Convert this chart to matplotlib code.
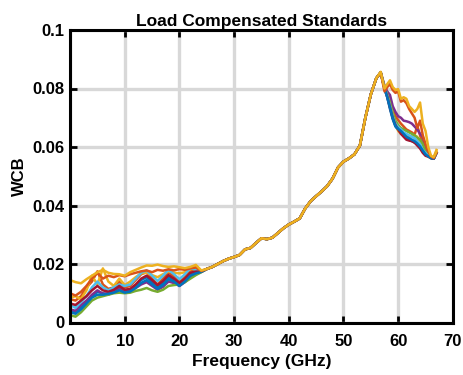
import numpy as np
import matplotlib
matplotlib.use("Agg")
import matplotlib.pyplot as plt

plt.rcParams['font.family'] = ['Liberation Sans', 'DejaVu Sans']
plt.rcParams['font.weight'] = 'bold'

# ---------------- data ----------------
f_low = [0, 1, 2, 3, 4, 5, 6, 7, 8, 9, 10, 11, 12, 13, 14, 15, 16, 17, 18, 19, 20, 21, 22, 23, 24]
f_mid = [25, 26, 27, 28, 29, 30, 31, 32, 33, 34, 35, 36, 37, 38, 39, 40, 41, 42, 43, 44, 45,
         46, 47, 48, 49, 50, 51, 52, 53, 54, 55, 56]
f_high = [56.8, 57.5, 58, 58.5, 59, 59.5, 60, 60.5, 61, 61.5, 62, 62.5, 63, 63.5, 64, 64.5,
          65, 65.5, 66, 66.5, 67]

# shared part (all standards coincide between ~24 and 56 GHz)
wcb_mid = [0.0183, 0.0190, 0.0200, 0.0210, 0.0218, 0.0224, 0.0231, 0.0250, 0.0255, 0.0272,
           0.0288, 0.0285, 0.0290, 0.0306, 0.0322, 0.0335, 0.0345, 0.0356, 0.0390, 0.0415,
           0.0432, 0.0448, 0.0466, 0.0492, 0.0530, 0.0550, 0.0561, 0.0575, 0.0605, 0.0700,
           0.0780, 0.0835]

low_0 = [0.0040, 0.0035, 0.0050, 0.0070, 0.0090, 0.0105, 0.0100, 0.0095, 0.0105, 0.0115, 0.0105,
         0.0110, 0.0125, 0.0145, 0.0155, 0.0138, 0.0120, 0.0135, 0.0156, 0.0145, 0.0128, 0.0145,
         0.0165, 0.0172, 0.0174]
low_1 = [0.0080, 0.0075, 0.0090, 0.0120, 0.0140, 0.0175, 0.0130, 0.0115, 0.0120, 0.0140, 0.0120,
         0.0125, 0.0145, 0.0165, 0.0172, 0.0150, 0.0130, 0.0150, 0.0172, 0.0158, 0.0138, 0.0155,
         0.0178, 0.0175, 0.0174]
low_2 = [0.0085, 0.0090, 0.0080, 0.0110, 0.0160, 0.0130, 0.0185, 0.0140, 0.0125, 0.0150, 0.0128,
         0.0140, 0.0155, 0.0168, 0.0170, 0.0162, 0.0155, 0.0165, 0.0175, 0.0170, 0.0168, 0.0172,
         0.0182, 0.0190, 0.0176]
low_3 = [0.0045, 0.0040, 0.0060, 0.0075, 0.0095, 0.0110, 0.0098, 0.0100, 0.0110, 0.0118, 0.0105,
         0.0108, 0.0118, 0.0130, 0.0138, 0.0125, 0.0112, 0.0122, 0.0140, 0.0135, 0.0125, 0.0138,
         0.0155, 0.0165, 0.0173]
low_4 = [0.0025, 0.0020, 0.0035, 0.0055, 0.0075, 0.0085, 0.0090, 0.0095, 0.0100, 0.0102, 0.0100,
         0.0102, 0.0108, 0.0112, 0.0118, 0.0110, 0.0105, 0.0112, 0.0125, 0.0128, 0.0130, 0.0138,
         0.0150, 0.0162, 0.0172]
low_5 = [0.0060, 0.0050, 0.0070, 0.0090, 0.0120, 0.0140, 0.0120, 0.0110, 0.0120, 0.0130, 0.0125,
         0.0130, 0.0150, 0.0170, 0.0178, 0.0160, 0.0142, 0.0160, 0.0180, 0.0165, 0.0148, 0.0165,
         0.0186, 0.0180, 0.0175]
low_6 = [0.0065, 0.0060, 0.0075, 0.0090, 0.0110, 0.0125, 0.0110, 0.0105, 0.0112, 0.0125, 0.0112,
         0.0115, 0.0130, 0.0150, 0.0160, 0.0145, 0.0128, 0.0142, 0.0162, 0.0150, 0.0135, 0.0150,
         0.0170, 0.0174, 0.0174]
low_7 = [0.0035, 0.0030, 0.0045, 0.0065, 0.0085, 0.0095, 0.0095, 0.0098, 0.0102, 0.0110, 0.0102,
         0.0106, 0.0118, 0.0135, 0.0145, 0.0130, 0.0115, 0.0128, 0.0148, 0.0140, 0.0125, 0.0140,
         0.0160, 0.0168, 0.0173]
low_8 = [0.0100, 0.0092, 0.0105, 0.0125, 0.0150, 0.0170, 0.0150, 0.0160, 0.0155, 0.0162, 0.0158,
         0.0165, 0.0170, 0.0175, 0.0178, 0.0172, 0.0180, 0.0177, 0.0182, 0.0178, 0.0183, 0.0180,
         0.0185, 0.0188, 0.0176]
low_9 = [0.0145, 0.0138, 0.0134, 0.0148, 0.0160, 0.0172, 0.0180, 0.0170, 0.0166, 0.0165, 0.0160,
         0.0172, 0.0180, 0.0188, 0.0195, 0.0194, 0.0198, 0.0193, 0.0190, 0.0192, 0.0189, 0.0186,
         0.0190, 0.0197, 0.0178]

high_0 = [0.0855, 0.0800, 0.0770, 0.0730, 0.0695, 0.0670, 0.0658, 0.0650, 0.0640, 0.0630, 0.0625,
          0.0620, 0.0615, 0.0610, 0.0600, 0.0585, 0.0575, 0.0570, 0.0562, 0.0560, 0.0580]
high_1 = [0.0855, 0.0805, 0.0785, 0.0760, 0.0730, 0.0705, 0.0692, 0.0680, 0.0670, 0.0660, 0.0655,
          0.0650, 0.0642, 0.0672, 0.0640, 0.0610, 0.0585, 0.0570, 0.0563, 0.0560, 0.0580]
high_2 = [0.0855, 0.0800, 0.0775, 0.0750, 0.0715, 0.0685, 0.0655, 0.0645, 0.0642, 0.0638, 0.0635,
          0.0637, 0.0640, 0.0635, 0.0610, 0.0590, 0.0575, 0.0567, 0.0562, 0.0565, 0.0590]
high_3 = [0.0855, 0.0810, 0.0790, 0.0778, 0.0740, 0.0720, 0.0705, 0.0700, 0.0690, 0.0688, 0.0685,
          0.0680, 0.0670, 0.0660, 0.0645, 0.0635, 0.0600, 0.0575, 0.0565, 0.0560, 0.0580]
high_4 = [0.0855, 0.0805, 0.0780, 0.0750, 0.0715, 0.0690, 0.0675, 0.0665, 0.0660, 0.0655, 0.0650,
          0.0645, 0.0640, 0.0632, 0.0625, 0.0610, 0.0585, 0.0570, 0.0563, 0.0560, 0.0580]
high_5 = [0.0855, 0.0802, 0.0775, 0.0740, 0.0705, 0.0680, 0.0668, 0.0660, 0.0650, 0.0645, 0.0640,
          0.0635, 0.0630, 0.0620, 0.0610, 0.0590, 0.0580, 0.0570, 0.0563, 0.0560, 0.0580]
high_6 = [0.0855, 0.0800, 0.0772, 0.0735, 0.0700, 0.0675, 0.0660, 0.0645, 0.0635, 0.0625, 0.0622,
          0.0620, 0.0615, 0.0605, 0.0595, 0.0580, 0.0570, 0.0567, 0.0562, 0.0560, 0.0580]
high_7 = [0.0855, 0.0800, 0.0770, 0.0735, 0.0698, 0.0672, 0.0662, 0.0655, 0.0645, 0.0635, 0.0630,
          0.0625, 0.0620, 0.0612, 0.0602, 0.0588, 0.0575, 0.0568, 0.0562, 0.0560, 0.0580]
high_8 = [0.0855, 0.0790, 0.0805, 0.0815, 0.0795, 0.0785, 0.0790, 0.0755, 0.0760, 0.0750, 0.0730,
          0.0715, 0.0700, 0.0665, 0.0690, 0.0640, 0.0610, 0.0585, 0.0568, 0.0562, 0.0580]
high_9 = [0.0857, 0.0800, 0.0815, 0.0828, 0.0805, 0.0795, 0.0798, 0.0765, 0.0770, 0.0765, 0.0740,
          0.0730, 0.0720, 0.0730, 0.0752, 0.0680, 0.0655, 0.0600, 0.0570, 0.0565, 0.0585]

lows = [low_0, low_1, low_2, low_3, low_4, low_5, low_6, low_7, low_8, low_9]
highs = [high_0, high_1, high_2, high_3, high_4, high_5, high_6, high_7, high_8, high_9]

x_ticks = [0, 10, 20, 30, 40, 50, 60, 70]
y_ticks = [0, 0.02, 0.04, 0.06, 0.08, 0.1]
y_tick_labels = ["0", "0.02", "0.04", "0.06", "0.08", "0.1"]

colors = ['#0072BD', '#D95319', '#EDB120', '#7E2F8E', '#77AC30', '#4DBEEE', '#A2142F',
          '#0072BD', '#D95319', '#EDB120']

# ---------------- plot ----------------
fig = plt.figure(figsize=(4.64, 3.75), dpi=100)
ax = fig.add_axes([0.151, 0.140, 0.825, 0.780])

freq = f_low + f_mid + f_high
for i, (lo, hi) in enumerate(zip(lows, highs)):
    ax.plot(freq, lo + wcb_mid + hi, color=colors[i], lw=1.8, solid_joinstyle='round')

ax.set_xlim(0, 70)
ax.set_ylim(0, 0.1)
ax.set_xticks(x_ticks)
ax.set_xticklabels([str(t) for t in x_ticks])
ax.set_yticks(y_ticks)
ax.set_yticklabels(y_tick_labels)
ax.grid(True, color='#d8d8d8', lw=2.4)
ax.set_axisbelow(True)
ax.tick_params(direction='in', length=5, width=2, top=True, right=True, labelsize=12)
ax.tick_params(axis='x', pad=8)
ax.tick_params(axis='y', pad=4)
for lab in ax.get_xticklabels() + ax.get_yticklabels():
    lab.set_fontweight('bold')
for s in ax.spines.values():
    s.set_linewidth(2.2)
ax.set_xlabel('Frequency (GHz)', fontsize=12.5, fontweight='bold', labelpad=4)
ax.set_ylabel('WCB', fontsize=12, fontweight='bold', labelpad=4)
ax.set_title('Load Compensated Standards', fontsize=12.5, fontweight='bold', pad=3)

fig.savefig('out.png', dpi=100)
